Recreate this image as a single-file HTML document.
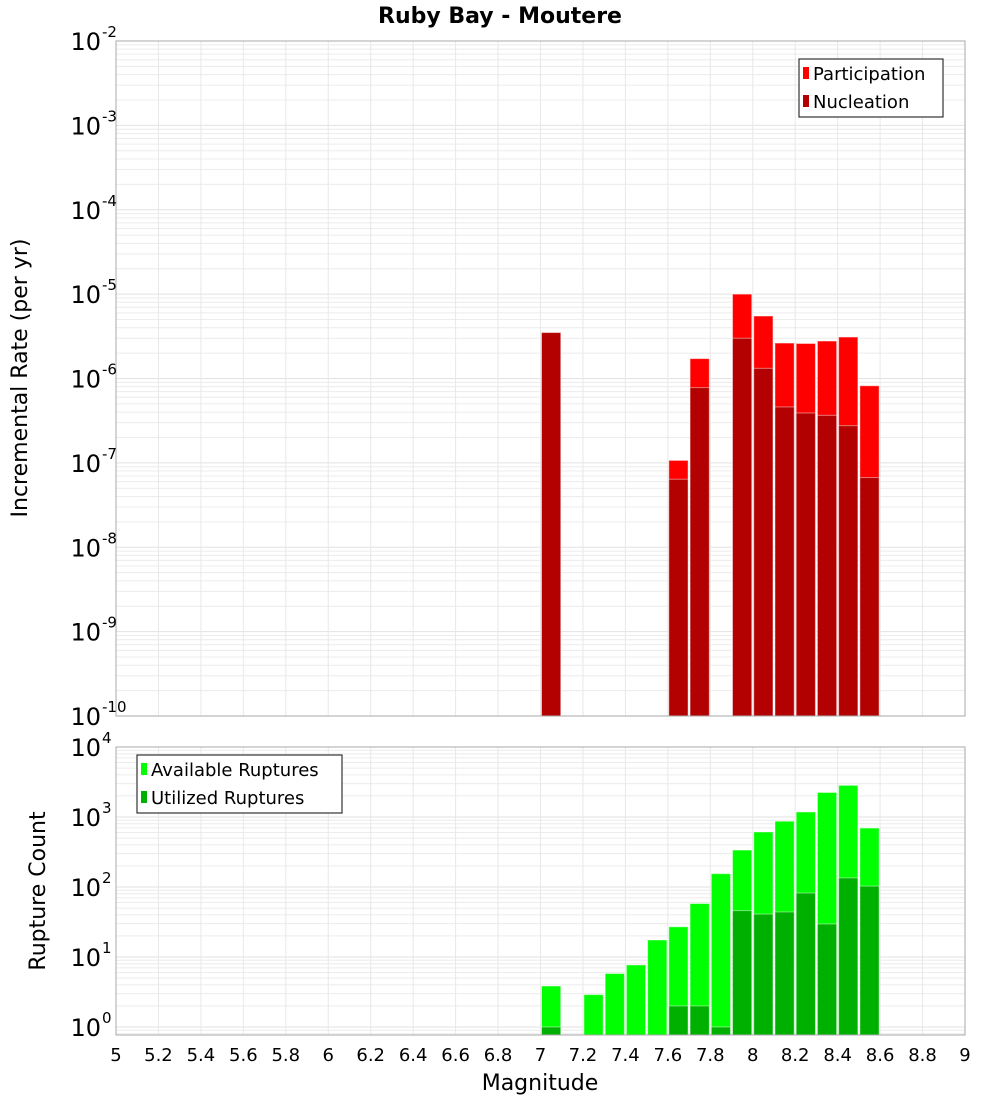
<!DOCTYPE html>
<html><head><meta charset="utf-8"><style>
body{margin:0;background:#fff;font-family:"Liberation Sans","DejaVu Sans",sans-serif}
svg text{font-family:"DejaVu Sans","Liberation Sans",sans-serif}
</style></head><body>
<svg id="c" width="1000" height="1100" xmlns="http://www.w3.org/2000/svg"></svg>
<script>
const mags=[7.05,7.15,7.25,7.35,7.45,7.55,7.65,7.75,7.85,7.95,8.05,8.15,8.25,8.35,8.45,8.55];
const participation=[3.5e-6,0,0,0,0,0,1.07e-7,1.72e-6,0,1.0e-5,5.5e-6,2.63e-6,2.6e-6,2.78e-6,3.1e-6,8.2e-7];
const nucleation=[3.5e-6,0,0,0,0,0,6.4e-8,7.8e-7,0,3.0e-6,1.32e-6,4.6e-7,3.9e-7,3.66e-7,2.76e-7,6.7e-8];
const available=[3.85,0,2.9,5.8,7.7,17.5,27,58,155,337,611,870,1180,2240,2830,695];
const utilized=[1,0,0,0,0,0,2,2,1,46,41,44,82,29.6,135,103];
const xTicks=["5","5.2","5.4","5.6","5.8","6","6.2","6.4","6.6","6.8","7","7.2","7.4","7.6","7.8","8","8.2","8.4","8.6","8.8","9"];
const topExp=[-2,-3,-4,-5,-6,-7,-8,-9,-10];
const botExp=[4,3,2,1,0];

const svg=document.getElementById('c');
const NS='http://www.w3.org/2000/svg';
function mk(tag,attrs,parent){const e=document.createElementNS(NS,tag);for(const k in attrs)e.setAttribute(k,attrs[k]);(parent||svg).appendChild(e);return e;}
const X0=116,X1=965;
const x=m=>X0+(m-5)/4*(X1-X0);
const T={top:41,bot:716,y:v=>41+(-2-Math.log10(v))*84.375};
const B={top:747,bot:1035,y:v=>747+(4-Math.log10(v))*70};

function grid(P,eMin,eMax,name){
  const g=mk('g',{});
  for(let e=eMin;e<eMax;e++)for(let k=1;k<10;k++){const yy=P.y(k*Math.pow(10,e));if(yy<P.top||yy>P.bot)continue;
    mk('line',{x1:X0,x2:X1,y1:yy,y2:yy,stroke:k==1?'#e2e2e2':'#ececec','stroke-width':1},g);}
  for(let i=0;i<xTicks.length;i++){const xx=x(5+i*0.2);mk('line',{x1:xx,x2:xx,y1:P.top,y2:P.bot,stroke:'#e8e8e8'},g);}
}
grid(T,-11,-1,'top-grid');grid(B,-1,4,'bottom-grid');

function bars(P,vals,fill,name){
  const g=mk('g',{});
  vals.forEach((v,i)=>{if(!v)return;const yy=P.y(v);
    const r=mk('rect',{x:x(mags[i]-0.05)+1,y:yy,width:x(mags[i]+0.05)-x(mags[i]-0.05)-2,height:P.bot-yy,fill:fill,stroke:'rgba(255,255,255,0.45)','stroke-width':1},g);
    });
}
bars(T,participation,'#ff0000','participation');
bars(T,nucleation,'#b30000','nucleation');
bars(B,available,'#00ff00','available-ruptures');
bars(B,utilized,'#00b000','utilized-ruptures');

mk('rect',{x:X0,y:T.top,width:X1-X0,height:T.bot-T.top,fill:'none',stroke:'#aaa'});
mk('rect',{x:X0,y:B.top,width:X1-X0,height:B.bot-B.top,fill:'none',stroke:'#aaa'});

function ylabels(P,exps,name){
  exps.forEach(e=>{const yy=P.y(Math.pow(10,e));
    const t=mk('text',{x:101,y:yy+9,'font-size':24,'text-anchor':'end',fill:'#000'});t.textContent='10';
    
    const s=mk('text',{x:102,y:yy-4,'font-size':15,fill:'#000'});s.textContent=String(e);});
}
ylabels(T,topExp,'top-y');ylabels(B,botExp,'bottom-y');

xTicks.forEach((l,i)=>{const t=mk('text',{x:x(5+i*0.2),y:1061,'font-size':18,'text-anchor':'middle'});t.textContent=l;
  });

let t=mk('text',{x:500,y:23,'font-size':22,'font-weight':'bold','text-anchor':'middle'});t.textContent='Ruby Bay - Moutere';
t=mk('text',{x:540,y:1090,'font-size':22,'text-anchor':'middle'});t.textContent='Magnitude';
t=mk('text',{x:0,y:0,'font-size':22,'text-anchor':'middle',transform:'translate(27,378) rotate(-90)'});t.textContent='Incremental Rate (per yr)';
t=mk('text',{x:0,y:0,'font-size':22,'text-anchor':'middle',transform:'translate(45,891) rotate(-90)'});t.textContent='Rupture Count';

function legend(x0,y0,w,items,name){
  const g=mk('g',{});
  mk('rect',{x:x0,y:y0,width:w,height:58,fill:'#fff',stroke:'#333','stroke-width':1.2},g);
  items.forEach((it,i)=>{mk('rect',{x:x0+4,y:y0+8+i*28,width:6,height:12,fill:it[1]},g);
    const tt=mk('text',{x:x0+14,y:y0+21+i*28,'font-size':18},g);tt.textContent=it[0];
    });
}
legend(799,59,144,[['Participation','#ff0000'],['Nucleation','#b30000']],'top-legend');
legend(137,755,205,[['Available Ruptures','#00ff00'],['Utilized Ruptures','#00b000']],'bottom-legend');
</script>
</body></html>
